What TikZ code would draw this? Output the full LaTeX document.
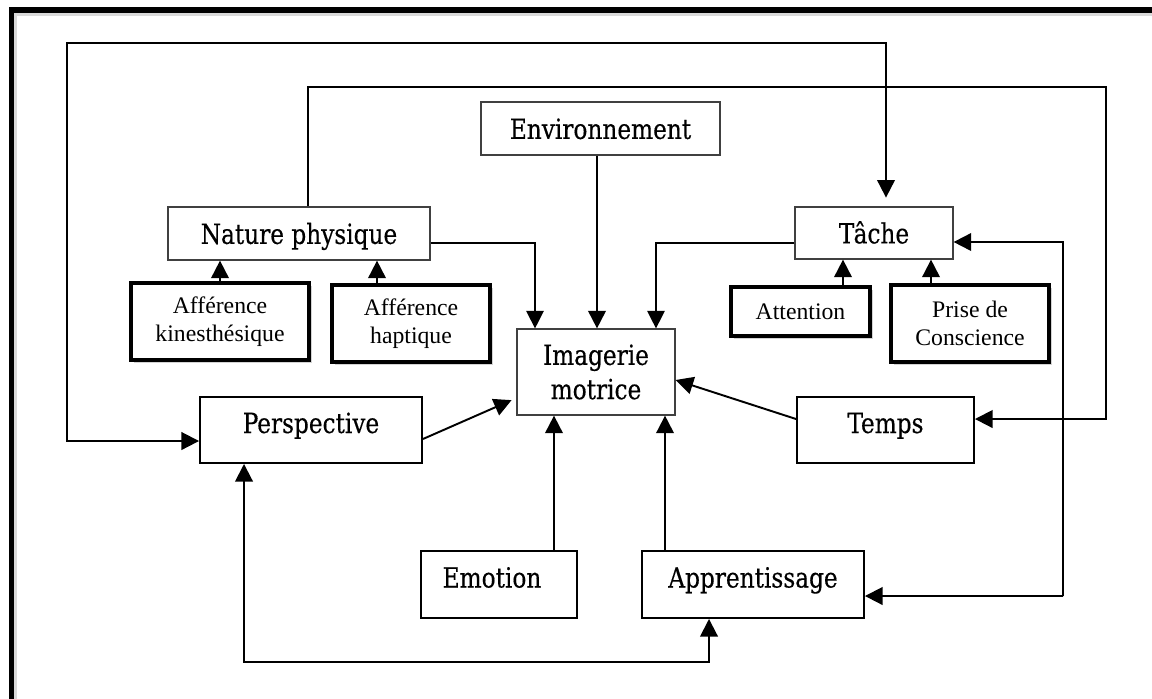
\documentclass[tikz,border=0pt]{standalone}
\usepackage{fontspec}
\setmainfont{DejaVu Serif Condensed}[FakeStretch=0.93, FakeBold=0.4]
\newfontfamily\timesfont{Liberation Serif}
\usepackage{tikz}
\usetikzlibrary{arrows.meta, shadows}

\tikzset{
  box/.style={draw, line width=1.1pt, inner sep=0pt, align=center, font=\fontsize{15.8}{19.5}\selectfont},
  oneline/.style={text height=11.8pt, text depth=0pt},
  lowbox/.style={box, text height=11.8pt, text depth=8.4pt},
  thinbox/.style={box, draw=black!75, line width=0.7pt},
  heavybox/.style={draw, line width=2pt, inner sep=0pt, align=center, fill=white,
    font=\timesfont\fontsize{13.5}{16}\selectfont, drop shadow={shadow xshift=1.5pt, shadow yshift=-1.5pt, opacity=0.35}},
  conn/.style={line width=1.1pt, -{Triangle[length=10pt,width=10pt]}},
  thinconn/.style={conn, line width=0.7pt},
  dblconn/.style={line width=1.1pt, {Triangle[length=10pt,width=10pt]}-{Triangle[length=10pt,width=10pt]}}
}

\begin{document}
\begin{tikzpicture}[x=0.02cm, y=-0.02cm]
\useasboundingbox (0,0) rectangle (1152,698);
\clip (0,0) rectangle (1152,698);
\draw [black!15, line width=2pt] (15.5,720) -- (15.5,14) -- (1170,14);
\draw [line width=3.4pt] (11.5,720) -- (11.5,10) -- (1170,10);

\node [thinbox, oneline, minimum width=4.78cm, minimum height=1.06cm] (env) at (600.5,128.5) {Environnement};
\node [thinbox, oneline, minimum width=5.24cm, minimum height=1.06cm] (nat) at (299,233.5) {Nature physique};
\node [thinbox, oneline, minimum width=3.16cm, minimum height=1.04cm] (tache) at (874,233) {Tâche};
\node [thinbox, minimum width=3.16cm, minimum height=1.72cm] (img) at (596,372) {Imagerie\\motrice};
\node [heavybox, minimum width=3.56cm, minimum height=1.54cm] (affk) at (220,321.5) {Afférence\\kinesthésique};
\node [heavybox, minimum width=3.16cm, minimum height=1.54cm] (affh) at (411,323.5) {Afférence\\haptique};
\node [heavybox, minimum width=2.78cm, minimum height=0.98cm] (att) at (800.5,311.5) {Attention};
\node [heavybox, minimum width=3.16cm, minimum height=1.54cm] (prise) at (970,323.5) {Prise de\\Conscience};
\node [lowbox, minimum width=4.44cm, minimum height=1.32cm] (persp) at (311,430) {Perspective};
\node [lowbox, minimum width=3.54cm, minimum height=1.32cm] (temps) at (885.5,430) {Temps};
\node [lowbox, minimum width=3.12cm, minimum height=1.34cm] (emo) at (499,584.5) {Emotion\hspace*{0.28cm}};
\node [lowbox, minimum width=4.44cm, minimum height=1.34cm] (appr) at (753,584.5) {Apprentissage};

\coordinate (tl) at (67,43);
\coordinate (nr) at (1106,87);
\coordinate (rl) at (1063,596);
\coordinate (bot) at (0,662);

\draw [conn] ([xshift=-0.07cm]env.south) -- ([xshift=-0.07cm]env.south |- img.north);
\draw [thinconn] ([yshift=-0.19cm]nat.east) -| ([xshift=-1.22cm]img.north);
\draw [thinconn] ([yshift=-0.2cm]tache.west) -| ([xshift=1.2cm]img.north);
\draw [conn] (affk.north) -- (affk.north |- nat.south);
\draw [conn] ([xshift=-0.68cm]affh.north) -- ([xshift=-0.68cm]affh.north |- nat.south);
\draw [conn] ([xshift=0.85cm]att.north) -- ([xshift=0.85cm]att.north |- tache.south);
\draw [conn] ([xshift=-0.78cm]prise.north) -- ([xshift=-0.78cm]prise.north |- tache.south);
\draw [conn, shorten >=3pt] ([yshift=-0.18cm]persp.east) -- ([yshift=-0.52cm]img.west);
\draw [conn] ([yshift=0.22cm]temps.west) -- ([yshift=-0.16cm]img.east);
\draw [conn] ([xshift=1.1cm]emo.north) -- ([xshift=1.1cm]emo.north |- img.south);
\draw [conn] ([xshift=-1.76cm]appr.north) -- ([xshift=-1.76cm]appr.north |- img.south);
\draw [dblconn] ([xshift=-1.34cm]persp.south) -- ([xshift=-1.34cm]persp.south |- bot) -| ([xshift=-0.88cm]appr.south);
\draw [dblconn] ([yshift=-0.18cm]tache.east) -| (rl) |- ([yshift=-0.23cm]appr.east);
\draw [dblconn, shorten >=5pt] ([yshift=-0.22cm]persp.west) -| (tl) -| ([xshift=0.24cm]tache.north);
\draw [conn] ([xshift=0.18cm]nat.north) |- (nr) |- ([yshift=0.22cm]temps.east);
\end{tikzpicture}
\end{document}
